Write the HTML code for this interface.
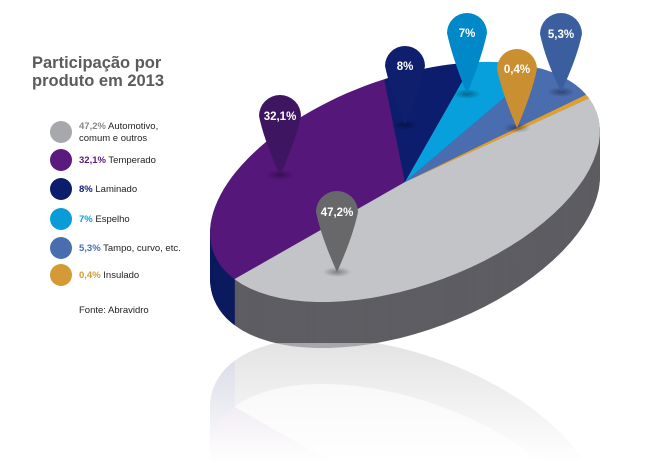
<!DOCTYPE html>
<html><head><meta charset="utf-8"><style>
html,body{margin:0;background:#fff;width:650px;height:463px;overflow:hidden;font-family:"Liberation Sans",sans-serif}
svg{display:block}
</style></head><body>
<svg id="s" width="650" height="463" viewBox="0 0 650 463" xmlns="http://www.w3.org/2000/svg">
<defs>
<linearGradient id="fade" x1="0" y1="0" x2="0" y2="1">
<stop offset="0" stop-color="#fff" stop-opacity="0.45"/>
<stop offset="1" stop-color="#fff" stop-opacity="1"/>
</linearGradient>
<clipPath id="rc"><rect x="0" y="343" width="650" height="120"/></clipPath>
<radialGradient id="sh"><stop offset="0" stop-color="#000" stop-opacity="0.35"/><stop offset="1" stop-color="#000" stop-opacity="0"/></radialGradient>
</defs>
<g id="pie"></g>
<g clip-path="url(#rc)" opacity="0.3"><use href="#pie" transform="translate(0,686) scale(1,-1)"/></g>
<rect x="0" y="343" width="650" height="120" fill="url(#fade)"/>
<g id="pins"></g>
<text x="32" y="68" font-size="16.5" font-weight="bold" fill="#5b5b5b">Participação por</text>
<text x="32" y="86" font-size="16.5" font-weight="bold" fill="#5b5b5b">produto em 2013</text>
<g font-size="9.5" fill="#222">
<circle cx="61" cy="132" r="11" fill="#a7a8ab"/>
<text x="79" y="129"><tspan font-weight="bold" fill="#888">47,2%</tspan> Automotivo,</text>
<text x="79" y="141">comum e outros</text>
<circle cx="61" cy="160" r="11" fill="#5a1a7e"/>
<text x="79" y="163"><tspan font-weight="bold" fill="#5a1a7e">32,1%</tspan> Temperado</text>
<circle cx="61" cy="189" r="11" fill="#0d1d6e"/>
<text x="79" y="192"><tspan font-weight="bold" fill="#0d1d6e">8%</tspan> Laminado</text>
<circle cx="61" cy="219" r="11" fill="#0a9bd9"/>
<text x="79" y="222"><tspan font-weight="bold" fill="#0a9bd9">7%</tspan> Espelho</text>
<circle cx="61" cy="248" r="11" fill="#4a6db0"/>
<text x="79" y="251"><tspan font-weight="bold" fill="#4a6db0">5,3%</tspan> Tampo, curvo, etc.</text>
<circle cx="61" cy="275" r="11" fill="#d49a35"/>
<text x="79" y="278"><tspan font-weight="bold" fill="#d49a35">0,4%</tspan> Insulado</text>
<text x="79" y="313">Fonte: Abravidro</text>
</g>
</svg>
<script>
(function(){
const C=[405,182],a=204,b=104,ang=-20*Math.PI/180;
const u=[Math.cos(ang),Math.sin(ang)],v=[-Math.sin(ang),Math.cos(ang)];
function P(t,dy){return [C[0]+a*Math.cos(t)*u[0]+b*Math.sin(t)*v[0],C[1]+a*Math.cos(t)*u[1]+b*Math.sin(t)*v[1]+(dy||0)];}
function T(p){const dx=p[0]-C[0],dy=p[1]-C[1];return Math.atan2((dx*v[0]+dy*v[1])/b,(dx*u[0]+dy*u[1])/a);}
let pts=[[238,277],[383,73],[463,80],[525,80],[577,99],[581,102]];
let ts=pts.map(T);
for(let i=1;i<ts.length;i++){while(ts[i]<ts[i-1])ts[i]+=2*Math.PI;}
ts.push(ts[0]+2*Math.PI);
const topC=["#55177a","#0d1d6e","#08a0dc","#4a6db0","#e0a030","#c3c4c8"];
const sideC=["#0c1a5e","#0a1650","#05608a","#2d4677","#8a6020","#5d5d62"];
function wedge(t0,t1,dy){let d="M"+C[0]+","+(C[1]+dy);for(let k=0;k<=40;k++){const p=P(t0+(t1-t0)*k/40,dy);d+="L"+p[0].toFixed(1)+","+p[1].toFixed(1);}return d+"Z";}
const NS="http://www.w3.org/2000/svg";
function add(parent,tag,attrs,txt){const e=document.createElementNS(NS,tag);for(const k in attrs)e.setAttribute(k,attrs[k]);if(txt)e.textContent=txt;parent.appendChild(e);return e;}
const g=document.getElementById("pie");
for(let dy=46;dy>=1;dy-=1){for(let i=0;i<6;i++)add(g,"path",{d:wedge(ts[i],ts[i+1],dy),fill:sideC[i]});}
for(let i=0;i<6;i++)add(g,"path",{d:wedge(ts[i],ts[i+1],0),fill:topC[i]});
const pins=[[280,116,21,175,"#3d1560","32,1%"],[405,66,20,125,"#0f1f6e","8%"],[467,33,20,94,"#0088c8","7%"],[517,69,20,128,"#c98f30","0,4%"],[561,34,21,92,"#3b5f9e","5,3%"],[337,212,21,272,"#68686a","47,2%"]];
const pg=document.getElementById("pins");
for(const [cx,cy,r,tip,c,l] of pins){
add(pg,"ellipse",{cx:cx,cy:tip,rx:14,ry:5,fill:"url(#sh)"});
add(pg,"path",{d:`M${cx-r},${cy} A${r},${r} 0 1 1 ${cx+r},${cy} Q${cx+r*0.75},${cy+r*1.2} ${cx},${tip} Q${cx-r*0.75},${cy+r*1.2} ${cx-r},${cy}Z`,fill:c});
add(pg,"text",{x:cx,y:cy+4,"text-anchor":"middle","font-size":"11.5","font-weight":"bold",fill:"#fff","font-family":"Liberation Sans,sans-serif"},l);}
})();
</script>
</body></html>
